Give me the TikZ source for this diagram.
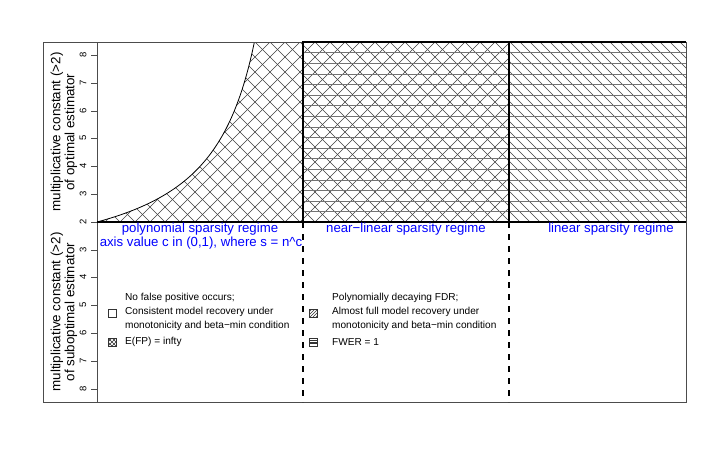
\documentclass[tikz,border=0pt]{standalone}
\usepackage{fontspec}
\setmainfont{Liberation Sans}
\begin{document}
\begin{tikzpicture}[x=1pt,y=-1pt,
  framebox/.style={draw=black!70, line width=0.8pt},
  hatchline/.style={draw=black!75, line width=0.6pt},
  hline/.style={draw=black!55, line width=0.55pt},
  regionborder/.style={draw=black, line width=1.1pt},
  regime/.style={text=blue, font=\fontsize{13.2}{15}\selectfont, inner sep=0pt},
  legendtext/.style={font=\fontsize{10.1}{13.5}\selectfont, align=left, anchor=west, inner sep=0pt},
  ticklab/.style={font=\fontsize{9.5}{10}\selectfont, rotate=90, inner sep=0pt},
  axtitle/.style={font=\fontsize{13.4}{14}\selectfont, rotate=90, align=center, inner sep=0pt},
  icon/.style={draw=black!80, line width=0.6pt}]
\useasboundingbox (0,0) rectangle (708,456);

% crosshatch: area under curve and middle region
\begin{scope}
\clip (97,222) -- plot[domain=0:0.764, samples=80] ({97+206*\x},{222-55.6*\x/(1-\x)}) -- (509,42) -- (509,222) -- cycle;
\foreach \a in {-90,-75,...,510} {
  \draw[hatchline] (\a,222) -- ++(180,-180);
  \draw[hatchline] (\a,42) -- ++(180,180);
}
\end{scope}
% right region diagonals
\begin{scope}
\clip (509,42) rectangle (686,222);
\foreach \a in {330,340,...,690} {
  \draw[hatchline] (\a,42) -- ++(180,180);
}
\end{scope}
% horizontal lines in middle and right regions
\foreach \k in {1,...,16} {
  \draw[hline] (303,{42+10.6*\k}) -- (686,{42+10.6*\k});
}

% curve
\draw[line width=0.8pt] plot[domain=0:0.764, samples=80] ({97+206*\x},{222-55.6*\x/(1-\x)});

% frame and axis
\draw[framebox] (43,42) rectangle (686,402);
\draw[framebox] (97,42) -- (97,402);

% region borders
\draw[regionborder] (303,222) -- (303,42) -- (686,42);
\draw[regionborder] (509,222) -- (509,42);

% horizontal baseline
\draw[line width=2pt] (97,222) -- (686,222);

% dashed separators
\draw[line width=2pt, dash pattern=on 6pt off 6pt] (303,222) -- (303,402);
\draw[line width=2pt, dash pattern=on 6pt off 6pt] (509,222) -- (509,402);

% ticks and labels
\foreach \v/\yy in {8/55,7/83,6/111,5/138,4/166,3/194,2/222} {
  \draw[framebox] (91,\yy) -- (97,\yy);
  \node[ticklab] (tt\v) at (83,\yy) {\v};
}
\foreach \v/\yy in {3/250,4/277,5/305,6/333,7/361,8/389} {
  \draw[framebox] (91,\yy) -- (97,\yy);
  \node[ticklab] (tb\v) at (83,\yy) {\v};
}

% axis titles
\node[axtitle] (ttitle) at (64,132) {multiplicative constant (>2)\\of optimal estimator};
\node[axtitle] (btitle) at (64,312) {multiplicative constant (>2)\\of suboptimal estimator};

% regime labels
\node[regime] (poly) at (200,229) {polynomial sparsity regime};
\node[regime] (axisv) at (201,243) {axis value c in (0,1), where s = n\^{}c};
\node[regime] (near) at (406,229) {near−linear sparsity regime};
\node[regime] (lin) at (611,229) {linear sparsity regime};

% legends
\node[legendtext] (l1a) at (125,298) {No false positive occurs;};
\node[legendtext] (l1b) at (125,312) {Consistent model recovery under};
\node[legendtext] (l1c) at (125,326) {monotonicity and beta−min condition};
\node[legendtext] (l1d) at (125,342) {E(FP) = infty};
\node[legendtext] (l2a) at (332,298) {Polynomially decaying FDR;};
\node[legendtext] (l2b) at (332,312) {Almost full model recovery under};
\node[legendtext] (l2c) at (332,326) {monotonicity and beta−min condition};
\node[legendtext] (l2d) at (332,342) {FWER = 1};

% legend icons
\draw[icon] (108,309) rectangle (116,317);
\begin{scope}
\clip (108,338) rectangle (116,346);
\foreach \a in {-8,-4,...,8} {
  \draw[icon, line width=0.5pt] ({108+\a},338) -- ++(8,8);
  \draw[icon, line width=0.5pt] ({108+\a},346) -- ++(8,-8);
}
\end{scope}
\draw[icon] (108,338) rectangle (116,346);
\begin{scope}
\clip (309,309) rectangle (317,317);
\foreach \a in {-8,-5,...,8} {
  \draw[icon, line width=0.5pt] ({309+\a},317) -- ++(8,-8);
}
\end{scope}
\draw[icon] (309,309) rectangle (317,317);
\foreach \yy in {340.5,342,343.5} {
  \draw[icon, line width=0.5pt] (309,\yy) -- (317,\yy);
}
\draw[icon] (309,338) rectangle (317,346);
\end{tikzpicture}
\end{document}
